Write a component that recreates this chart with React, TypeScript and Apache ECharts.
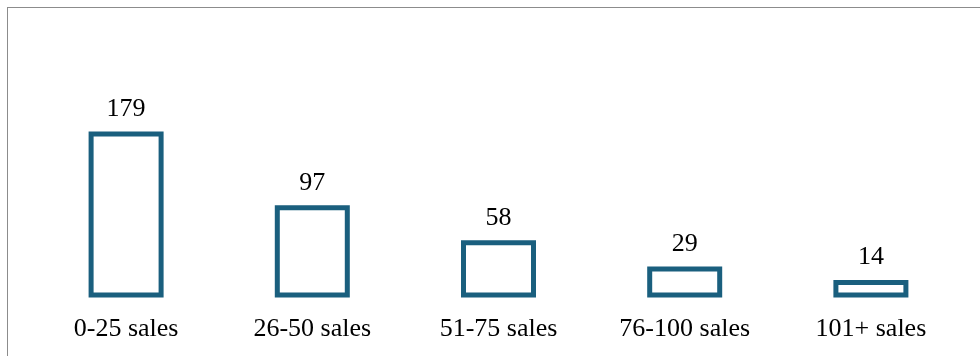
import React, { useEffect, useRef } from "react";
import * as echarts from "echarts";

const categories = ["0-25 sales", "26-50 sales", "51-75 sales", "76-100 sales", "101+ sales"];
const values = [179, 97, 58, 29, 14];

export default function App() {
  const ref = useRef<HTMLDivElement>(null);
  useEffect(() => {
    if (!ref.current) return;
    const chart = echarts.init(ref.current, null, { renderer: "svg" });
    const font = "'Liberation Serif', 'Times New Roman', serif";
    const barColor = "#1a5f7e";
    const barWidth = 70;
    chart.setOption({
      animation: false,
      grid: { left: 33, right: 16, top: 115, bottom: 61 },
      xAxis: {
        type: "category",
        data: categories,
        axisLine: { show: false },
        axisTick: { show: false },
        axisLabel: { color: "#000", fontSize: 26, fontFamily: font, margin: 19 },
      },
      yAxis: {
        type: "value",
        min: 0,
        max: 200,
        show: false,
        splitLine: { show: false },
      },
      series: [
        {
          type: "custom",
          data: values.map((v, i) => [i, v]),
          encode: { x: 0, y: 1 },
          renderItem: (params: any, api: any) => {
            const idx = api.value(0);
            const v = api.value(1);
            const top = api.coord([idx, v]);
            const base = api.coord([idx, 0]);
            return {
              type: "rect",
              shape: {
                x: top[0] - barWidth / 2,
                y: top[1],
                width: barWidth,
                height: base[1] - top[1],
              },
              style: { fill: "#ffffff", stroke: barColor, lineWidth: 5 },
              textContent: {
                style: {
                  text: String(v),
                  fill: "#000",
                  fontSize: 26,
                  fontFamily: font,
                },
              },
              textConfig: { position: "top", distance: 11 },
            };
          },
        },
      ],
    });
    return () => chart.dispose();
  }, []);
  return (
    <>
      <div
        style={{
          position: "fixed",
          left: 7,
          top: 7,
          width: 1100,
          height: 500,
          border: "1px solid #8c8c8c",
          boxSizing: "border-box",
        }}
      />
      <div ref={ref} style={{ position: "fixed", left: 0, top: 0, width: 980, height: 356 }} />
    </>
  );
}
